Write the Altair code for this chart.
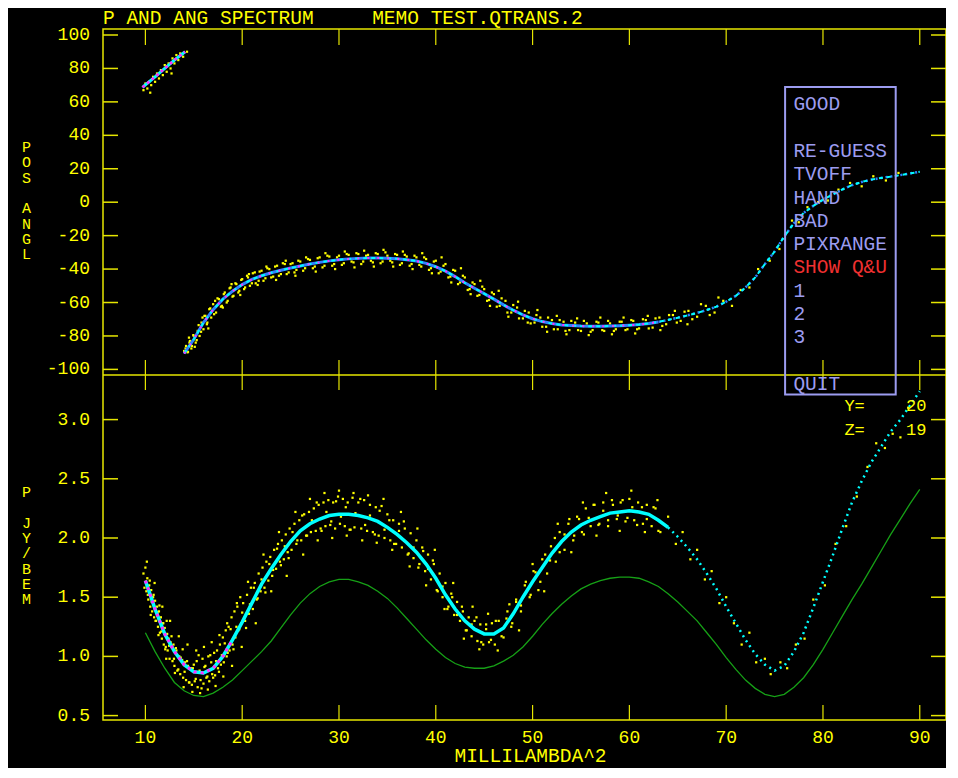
import altair as alt
import pandas as pd

NB = "\u00a0"  # non-breaking space so SVG keeps the spacing

# ---------------- text content ----------------
TITLE = "P AND ANG SPECTRUM     MEMO TEST.QTRANS.2"
X_TITLE = "MILLILAMBDA^2"
Y_TITLE_TOP = ["P", "O", "S", "", "A", "N", "G", "L"]
Y_TITLE_BOT = ["P", "", "J", "Y", "/", "B", "E", "M"]
MENU_ITEMS = ["GOOD", "", "RE-GUESS", "TVOFF", "HAND", "BAD", "PIXRANGE", "SHOW Q&U", "1", "2", "3", "", "QUIT"]
MENU_RED_ITEM = "SHOW Q&U"
INFO_KEYS = ["Y=", "Z="]
INFO_VALS = ["20", "19"]


def keep(s):
    return s.replace(" ", NB)


# ---------------- ticks ----------------
X_TICKS = [10, 20, 30, 40, 50, 60, 70, 80, 90]
X_LABELS = ["10", "20", "30", "40", "50", "60", "70", "80", "90"]
TOP_TICKS = [100, 80, 60, 40, 20, 0, -20, -40, -60, -80, -100]
TOP_LABELS = ["100", "80", "60", "40", "20", "0", "-20", "-40", "-60", "-80", "-100"]
BOT_TICKS = [3.0, 2.5, 2.0, 1.5, 1.0, 0.5]
BOT_LABELS = ["3.0", "2.5", "2.0", "1.5", "1.0", "0.5"]

# ---------------- model curves ----------------
P_X = list(range(10, 91))
P_MODEL = [1.64, 1.40, 1.19, 1.04, 0.93, 0.87, 0.86, 0.90, 1.00, 1.14,
           1.29, 1.45, 1.61, 1.74, 1.86, 1.97, 2.06, 2.12, 2.16, 2.19,
           2.20, 2.20, 2.19, 2.17, 2.14, 2.09, 2.03, 1.96, 1.88, 1.78,
           1.66, 1.52, 1.40, 1.30, 1.23, 1.19, 1.19, 1.24, 1.36, 1.50,
           1.63, 1.75, 1.87, 1.97, 2.05, 2.11, 2.15, 2.18, 2.21, 2.22,
           2.23, 2.22, 2.20, 2.15, 2.09, 2.01, 1.92, 1.82, 1.70, 1.57,
           1.42, 1.28, 1.14, 1.02, 0.93, 0.88, 0.92, 1.04, 1.20, 1.41,
           1.63, 1.85, 2.08, 2.30, 2.48, 2.64, 2.77, 2.90, 3.00, 3.12,
           3.24]
P_GREEN = [1.20, 1.04, 0.90, 0.78, 0.71, 0.67, 0.66, 0.69, 0.74, 0.80,
           0.88, 0.96, 1.04, 1.13, 1.24, 1.35, 1.45, 1.53, 1.59, 1.63,
           1.65, 1.65, 1.63, 1.60, 1.55, 1.49, 1.41, 1.32, 1.23, 1.14,
           1.06, 0.99, 0.94, 0.91, 0.90, 0.90, 0.92, 0.96, 1.01, 1.08,
           1.17, 1.27, 1.36, 1.44, 1.51, 1.57, 1.61, 1.64, 1.66, 1.67,
           1.67, 1.66, 1.63, 1.59, 1.53, 1.46, 1.38, 1.30, 1.20, 1.10,
           0.99, 0.89, 0.80, 0.73, 0.68, 0.66, 0.68, 0.74, 0.82, 0.93,
           1.06, 1.20, 1.34, 1.48, 1.61, 1.75, 1.89, 2.03, 2.16, 2.29,
           2.41]

ANG_X = list(range(14, 91))
ANG_MODEL = [-90.5, -82, -72, -64.3, -58, -53.2, -49.3, -46.2, -44, -42.2,
             -40.7, -39.4, -38.2, -37, -36, -35.1, -34.4, -33.9, -33.6, -33.4,
             -33.4, -33.5, -33.8, -34.4, -35.2, -36.6, -38.6, -41.2, -44.5, -48.2,
             -51.5, -54.7, -58, -61.4, -64.6, -67.4, -69.7, -71.4, -72.6, -73.4,
             -73.8, -74.1, -74.2, -74.2, -74.1, -73.9, -73.6, -73.2, -72.5, -71.6,
             -70.4, -69.1, -67.7, -66.2, -64.5, -62.5, -59.5, -56, -51, -45,
             -37, -29.5, -20.5, -12.5, -6.5, -2.2, 1.5, 4.6, 7.6, 10.2,
             12.1, 13.5, 14.5, 15.3, 16.2, 17.2, 18.2]
WRAP_X = [9.7, 10, 11, 12, 13, 14.1]
WRAP_ANG = [68.7, 70.2, 75.0, 80.0, 85.0, 90.0]

# ---------------- measured points (yellow) ----------------
P_POINTS = [
    (9.8, 1.70), (9.9, 1.58), (10.0, 1.75), (10.1, 1.55), (10.2, 1.66), (10.3, 1.48), (10.4, 1.60), (10.5, 1.42),
    (10.6, 1.56), (10.7, 1.38), (10.8, 1.50), (10.9, 1.33), (11.0, 1.47), (11.1, 1.30), (11.2, 1.42), (11.3, 1.25),
    (11.4, 1.38), (11.5, 1.20), (11.6, 1.33), (11.7, 1.15), (11.8, 1.28), (11.9, 1.10), (12.0, 1.24), (12.1, 1.08),
    (12.2, 1.30), (12.3, 1.05), (12.4, 1.15), (12.5, 0.98), (12.6, 1.12), (12.8, 0.96), (12.9, 1.10), (13.0, 0.92),
    (13.2, 1.05), (13.3, 0.88), (13.5, 1.00), (13.6, 0.85), (13.8, 0.97), (13.9, 0.82), (14.1, 0.95), (14.2, 0.80),
    (14.4, 0.92), (14.5, 0.78), (14.7, 0.90), (14.8, 0.76), (15.0, 0.93), (15.1, 0.79), (15.3, 0.96), (15.4, 0.74),
    (15.6, 0.88), (15.7, 0.80), (15.9, 0.98), (16.0, 0.77), (16.2, 0.92), (16.3, 0.82), (16.5, 1.00), (16.6, 0.79),
    (16.8, 0.95), (16.9, 0.85), (17.1, 1.03), (17.2, 0.84), (17.4, 1.05), (17.5, 0.90), (17.7, 1.10), (17.8, 0.93),
    (18.0, 1.16), (18.1, 0.95), (18.3, 1.22), (18.4, 1.00), (18.6, 1.25), (18.7, 1.05), (18.9, 1.33), (19.0, 1.10),
    (19.2, 1.38), (19.3, 1.16), (19.5, 1.42), (19.6, 1.22), (19.8, 1.50), (19.9, 1.28),
    (20.1, 1.45), (20.3, 1.30), (20.5, 1.52), (20.7, 1.36), (20.9, 1.58), (21.1, 1.40), (21.3, 1.62), (21.5, 1.48),
    (21.7, 1.70), (21.9, 1.55), (22.1, 1.75), (22.3, 1.58), (22.5, 1.80), (22.7, 1.64), (22.9, 1.84), (23.1, 1.68),
    (23.3, 1.90), (23.5, 1.74), (23.7, 1.95), (23.9, 1.80), (24.1, 1.98), (24.3, 1.82), (24.5, 2.03), (24.7, 1.88),
    (24.9, 2.08), (25.1, 1.90), (25.4, 2.12), (25.6, 1.95), (25.9, 2.15), (26.1, 1.98), (26.4, 2.20), (26.6, 2.02),
    (26.9, 2.22), (27.1, 2.05), (27.4, 2.25), (27.6, 2.06), (27.9, 2.28), (28.1, 2.08), (28.4, 2.30), (28.6, 2.10),
    (28.9, 2.32), (29.1, 2.11), (29.4, 2.30), (29.6, 2.08), (29.9, 2.35), (30.1, 2.12), (30.4, 2.33), (30.6, 2.10),
    (30.9, 2.30), (31.1, 2.07), (31.4, 2.34), (31.6, 2.09),
    (32.0, 2.30), (32.3, 2.08), (32.6, 2.32), (32.9, 2.06), (33.2, 2.28), (33.5, 2.05), (33.8, 2.26), (34.1, 2.02),
    (34.4, 2.27), (34.7, 2.00), (35.0, 2.20), (35.3, 1.98), (35.6, 2.15), (35.9, 1.95), (36.2, 2.12), (36.5, 1.92),
    (36.8, 2.08), (37.1, 1.86), (37.4, 2.04), (37.7, 1.83), (38.0, 1.98), (38.3, 1.78), (38.6, 1.92), (38.9, 1.72),
    (39.2, 1.86), (39.5, 1.65), (39.8, 1.78), (40.1, 1.56), (40.4, 1.70), (40.7, 1.50), (41.0, 1.62), (41.3, 1.42),
    (41.6, 1.53), (41.9, 1.35), (42.2, 1.46), (42.5, 1.30), (42.8, 1.38), (43.1, 1.22), (43.4, 1.33), (43.7, 1.17),
    (44.0, 1.30), (44.3, 1.13), (44.6, 1.27), (44.9, 1.10), (45.2, 1.27), (45.5, 1.12), (45.8, 1.28), (46.1, 1.10),
    (46.5, 1.30), (47.0, 1.16), (47.4, 1.38), (47.9, 1.28), (48.3, 1.48), (48.8, 1.38), (49.2, 1.60), (49.7, 1.50),
    (50.1, 1.72), (50.6, 1.56), (51.0, 1.82), (51.5, 1.70), (51.9, 1.93), (52.4, 1.80), (52.8, 2.05), (53.3, 1.90),
    (53.7, 2.12), (54.2, 1.98), (54.6, 2.18), (55.1, 2.05), (55.5, 2.25), (56.0, 2.10), (56.4, 2.28), (56.9, 2.12),
    (57.3, 2.30), (57.8, 2.15), (58.2, 2.32), (58.7, 2.16), (59.1, 2.30), (59.6, 2.14), (60.0, 2.33), (60.5, 2.15),
    (60.9, 2.30), (61.4, 2.12), (61.8, 2.28), (62.3, 2.10), (62.7, 2.25), (63.2, 2.05),
    (64.0, 2.18), (64.8, 1.95), (65.5, 2.05), (66.3, 1.82), (67.0, 1.90), (67.8, 1.65), (68.5, 1.72), (69.3, 1.45),
    (70.0, 1.50), (70.8, 1.28), (71.6, 1.10), (72.4, 1.20), (73.1, 0.95), (74.0, 0.98), (74.6, 0.85), (75.6, 0.95),
    (76.3, 0.90), (77.2, 1.10), (78.1, 1.15), (79.0, 1.48), (80.2, 1.60), (81.3, 1.95), (82.4, 2.10), (83.5, 2.35),
    (84.6, 2.60), (85.5, 2.80), (86.4, 2.76), (87.2, 2.88), (88.0, 2.85), (88.8, 3.10),
]
P_POINTS_2 = [
    (10.05, 1.63), (10.25, 1.52), (10.45, 1.64), (10.65, 1.46), (10.85, 1.52), (11.05, 1.30), (11.25, 1.37),
    (11.45, 1.43), (11.65, 1.21), (11.85, 1.28), (12.05, 1.06), (12.25, 1.19), (12.45, 1.09), (12.7, 1.17),
    (12.95, 0.98), (13.15, 1.07), (13.4, 0.89), (13.65, 0.99), (13.85, 1.06), (14.05, 0.87), (14.3, 0.96),
    (14.55, 0.78), (14.9, 0.90), (15.2, 0.81), (15.5, 1.01), (15.8, 0.73), (16.1, 0.91), (16.4, 0.83),
    (16.7, 1.01), (17.0, 0.82), (17.3, 0.96), (17.6, 0.87), (17.9, 1.01), (18.2, 1.11), (18.5, 1.03),
    (18.8, 1.23), (19.1, 1.06), (19.4, 1.25), (19.7, 1.23), (20.0, 1.37), (20.4, 1.24), (20.8, 1.44),
    (21.2, 1.58), (21.6, 1.49), (22.0, 1.65), (22.4, 1.54), (22.8, 1.78), (23.2, 1.73), (23.6, 1.91),
    (24.0, 1.77), (24.4, 1.93), (24.8, 1.83), (25.2, 2.05), (25.7, 1.98), (26.2, 2.19), (26.7, 2.02),
    (27.2, 2.15), (27.7, 2.30), (28.2, 2.06), (28.7, 2.22), (29.2, 2.14), (29.7, 2.31), (30.2, 2.18),
    (30.7, 2.26), (31.2, 2.07), (31.7, 2.21), (32.2, 2.33), (32.7, 2.11), (33.2, 2.19), (33.7, 2.03),
    (34.2, 2.23), (34.7, 2.07), (35.2, 2.15), (35.7, 1.95), (36.2, 2.06), (36.7, 2.14), (37.2, 1.87),
    (37.7, 1.92), (38.2, 1.75), (38.7, 1.89), (39.2, 1.74), (39.7, 1.81), (40.2, 1.55), (40.7, 1.59),
    (41.2, 1.40), (41.7, 1.50), (42.2, 1.35), (42.7, 1.42), (43.2, 1.22), (43.7, 1.27), (44.2, 1.33),
    (44.7, 1.12), (45.2, 1.23), (45.7, 1.14), (46.2, 1.30), (46.8, 1.17), (47.3, 1.32), (47.8, 1.25),
    (48.3, 1.46), (48.8, 1.43), (49.3, 1.63), (49.8, 1.52), (50.3, 1.71), (50.8, 1.63), (51.3, 1.86),
    (51.8, 1.81), (52.3, 2.00), (52.8, 1.88), (53.3, 2.03), (53.8, 2.16), (54.3, 2.02), (54.8, 2.16),
    (55.3, 2.03), (55.8, 2.17), (56.3, 2.28), (56.8, 2.11), (57.3, 2.23), (57.8, 2.10), (58.3, 2.28),
    (58.8, 2.19), (59.3, 2.32), (59.8, 2.17), (60.3, 2.26), (60.8, 2.11), (61.3, 2.26), (61.8, 2.16),
    (62.5, 2.26), (63.0, 2.06),
]
P_POINTS_3 = [
    (10.15, 1.80), (10.55, 1.35), (10.95, 1.62), (11.35, 1.18), (11.75, 1.42), (12.15, 0.98), (12.55, 1.30),
    (13.05, 0.86), (13.45, 1.17), (13.95, 0.74), (14.35, 1.10), (14.85, 0.70), (15.25, 1.05), (15.65, 0.69),
    (16.05, 1.08), (16.45, 0.72), (16.85, 1.12), (17.25, 0.75), (17.65, 1.18), (18.05, 0.83), (18.45, 1.28),
    (18.95, 0.92), (19.45, 1.45), (19.95, 1.08), (20.6, 1.63), (21.4, 1.28), (22.2, 1.86), (23.0, 1.55),
    (23.8, 2.05), (24.6, 1.68), (25.5, 2.22), (26.3, 1.86), (27.0, 2.33), (27.8, 1.98), (28.5, 2.38),
    (29.3, 2.00), (30.0, 2.40), (30.8, 2.02), (31.5, 2.38), (32.4, 1.98), (33.0, 2.36), (33.9, 1.96),
    (34.6, 2.33), (35.5, 1.90), (36.4, 2.22), (37.3, 1.76), (38.1, 2.08), (39.0, 1.60), (39.9, 1.90),
    (40.9, 1.40), (41.8, 1.62), (42.9, 1.15), (43.8, 1.42), (44.5, 1.06), (45.4, 1.36), (46.4, 1.05),
    (47.6, 1.44), (48.6, 1.22), (50.0, 1.78), (51.2, 1.55), (52.6, 2.12), (54.0, 1.88), (55.2, 2.30),
    (56.6, 2.02), (57.6, 2.38), (59.0, 2.06), (60.2, 2.40), (61.6, 2.05), (62.9, 2.32),
]
ANG_POINTS = [
    (9.8, 67), (10.0, 71), (10.2, 68), (10.4, 72), (10.6, 70), (10.8, 75), (11.0, 72), (11.2, 77), (11.4, 74),
    (11.6, 79), (11.8, 76), (12.0, 82), (12.2, 78), (12.4, 83), (12.6, 80), (12.8, 86), (13.0, 83), (13.2, 88),
    (13.4, 85), (13.6, 89), (13.9, 87), (14.3, 90), (10.5, 65.5), (12.7, 77),
    (14.0, -89), (14.2, -86), (14.4, -89.5), (14.6, -83), (14.8, -86), (15.0, -80), (15.2, -84), (15.4, -77),
    (15.6, -80), (15.8, -72), (16.0, -76), (16.2, -68), (16.4, -72), (16.6, -64), (16.8, -69), (17.0, -61),
    (17.3, -66), (17.6, -58), (17.9, -62), (18.2, -54), (18.5, -59), (18.8, -51), (19.1, -56), (19.4, -49),
    (19.7, -53), (20.0, -46), (20.3, -51), (20.6, -45), (21.0, -48.5), (21.3, -42), (21.7, -47), (22.0, -41),
    (22.4, -45.5), (22.8, -40), (23.2, -44.5), (23.6, -38), (24.0, -43), (24.4, -37), (24.8, -42), (25.2, -36.5),
    (25.6, -40.5), (26.0, -35.5), (26.5, -39.5), (27.0, -34.5), (27.5, -38.5), (28.0, -33), (28.5, -38), (29.0, -32.5),
    (29.5, -37), (30.0, -32), (30.5, -36.5), (31.0, -31.5), (31.5, -36), (32.0, -31), (32.5, -35.5), (33.0, -31.5),
    (33.5, -36), (34.0, -31), (34.5, -35.5), (35.0, -32), (35.5, -36), (36.0, -31.5), (36.5, -36.5), (37.0, -32.5),
    (37.5, -37), (38.0, -33), (38.5, -38.5), (39.0, -34), (39.5, -39.5), (40.0, -35), (40.5, -41.5), (41.0, -37),
    (41.5, -44.5), (42.0, -41), (42.5, -48), (43.0, -45), (43.5, -52), (44.0, -49), (44.5, -55.5), (45.0, -52),
    (45.5, -58.5), (46.0, -55), (46.6, -62), (47.2, -59), (47.8, -66), (48.4, -63), (49.0, -69.5), (49.6, -66),
    (50.2, -72), (50.8, -69), (51.4, -74.5), (52.0, -70.5), (52.6, -76), (53.2, -71.5), (53.8, -76.5), (54.4, -72),
    (55.0, -77), (55.6, -72.5), (56.2, -76.5), (56.8, -72), (57.4, -77), (58.0, -72.5), (58.6, -76), (59.2, -71.5),
    (59.8, -76), (60.4, -71), (61.0, -75.5), (61.7, -70.5), (62.4, -75), (63.1, -69), (63.8, -73), (64.5, -67.5),
    (65.3, -71), (66.1, -65), (67.0, -68.5), (67.9, -62), (68.8, -66), (69.7, -59), (70.6, -62), (71.5, -52.5),
    (72.4, -51), (73.3, -40), (74.5, -35), (75.5, -28), (76.8, -11), (77.5, -12), (78.4, -3), (79.5, 0),
    (80.5, 1), (81.6, 7.5), (82.8, 11.5), (84.0, 9.5), (85.2, 15.5), (86.5, 13), (87.8, 17.5),
]
ANG_POINTS_2 = [
    (14.15, -87.5), (14.35, -89.8), (14.55, -84), (14.75, -87.5), (14.95, -79.5), (15.3, -82.5), (15.5, -73.5),
    (15.75, -77.5), (16.1, -68), (16.35, -73), (16.7, -63.5), (17.1, -67), (17.45, -57.5), (17.8, -62.5),
    (18.1, -55), (18.4, -60), (18.7, -51.5), (19.0, -56.5), (19.3, -48.5), (19.6, -54), (19.9, -46.5),
    (20.2, -52), (20.5, -44), (20.8, -50), (21.1, -42.5), (21.4, -48.5), (21.8, -41.5), (22.2, -47),
    (22.6, -39.5), (23.0, -45), (23.4, -38.5), (23.8, -44), (24.2, -36.5), (24.6, -43), (25.0, -37),
    (25.4, -42), (25.8, -35), (26.3, -41), (26.8, -34), (27.3, -39.5), (27.8, -33.5), (28.3, -39),
    (28.8, -32), (29.3, -38), (29.8, -33), (30.3, -37.5), (30.8, -31), (31.3, -35.5), (31.8, -30.5),
    (32.3, -37), (32.8, -32), (33.3, -35), (33.8, -30.5), (34.3, -36.5), (34.8, -30), (35.3, -35),
    (35.8, -31), (36.3, -37.5), (36.8, -31.5), (37.3, -38), (37.8, -32), (38.3, -37.5), (38.8, -33),
    (39.3, -40.5), (39.8, -35.5), (40.3, -42.5), (40.8, -38), (41.3, -45), (41.8, -40.5), (42.3, -49),
    (42.8, -44), (43.3, -52.5), (43.8, -48), (44.3, -56), (44.8, -50.5), (45.3, -59), (45.8, -54),
    (46.3, -62.5), (46.8, -57.5), (47.4, -66), (48.0, -61.5), (48.6, -69.5), (49.2, -65), (49.8, -72.5),
    (50.4, -67.5), (51.0, -74.5), (51.6, -69), (52.2, -76), (52.8, -70.5), (53.4, -77), (54.0, -71),
    (54.7, -76.5), (55.3, -71), (56.0, -77.5), (56.6, -71.5), (57.2, -76.5), (57.8, -71), (58.4, -77),
    (59.0, -71.5), (59.6, -76.5), (60.2, -70.5), (60.8, -76), (61.4, -70), (62.0, -75.5), (62.7, -69.5),
    (63.4, -74), (64.1, -67.5), (64.9, -72), (65.7, -65.5), (66.5, -70),
]
ANG_POINTS_3 = [
    (14.5, -81), (15.1, -86.5), (15.9, -69), (16.5, -75.5), (17.2, -59), (18.0, -63), (18.9, -49), (19.8, -55.5),
    (20.7, -43), (21.6, -49.5), (22.5, -38.5), (23.5, -46.5), (24.5, -35), (25.5, -44), (26.6, -33), (27.6, -41.5),
    (28.6, -30.5), (29.6, -40), (30.6, -29.5), (31.6, -39), (32.6, -29), (33.6, -38.5), (34.6, -28.5),
    (35.6, -38.5), (36.6, -29.5), (37.6, -40), (38.6, -30.5), (39.6, -42.5), (40.6, -33), (41.6, -48),
    (42.6, -39.5), (43.6, -55), (44.6, -47), (45.6, -62), (46.5, -53), (47.5, -68.5), (48.5, -59.5),
    (49.5, -72), (50.5, -64.5), (51.5, -77.5), (52.5, -68), (53.5, -79), (54.6, -69.5), (55.8, -79.5),
    (57.0, -69), (58.2, -79), (59.4, -69), (60.6, -78.5), (61.9, -68), (63.2, -76.5), (64.7, -65),
    (66.0, -73), (67.4, -61), (68.3, -67.5), (69.2, -57),
]

# ---------------- frames ----------------
p_pts = pd.DataFrame(P_POINTS + P_POINTS_2 + P_POINTS_3, columns=["x", "p"])
a_pts = pd.DataFrame(ANG_POINTS + ANG_POINTS_2 + ANG_POINTS_3, columns=["x", "a"])
p_mod = pd.DataFrame({"x": P_X, "p": P_MODEL})
p_grn = pd.DataFrame({"x": P_X, "p": P_GREEN})
a_mod = pd.DataFrame({"x": ANG_X, "a": ANG_MODEL})
a_wrap = pd.DataFrame({"x": WRAP_X, "a": WRAP_ANG})
xt = pd.DataFrame({"x": X_TICKS, "lbl": X_LABELS})
yt_top = pd.DataFrame({"a": TOP_TICKS, "lbl": TOP_LABELS})
yt_bot = pd.DataFrame({"p": BOT_TICKS, "lbl": BOT_LABELS})
one = pd.DataFrame({"k": [0]})
info = pd.DataFrame({"key": INFO_KEYS, "val": INFO_VALS, "row": [0, 1]})

# ---------------- style ----------------
W, H = 843, 691
DIV = 346
YEL = "#FFFF00"
FRAME = "#E6E600"
LAV = "#9C9CF0"
RED = "#F03030"
CYAN = "#00FFFF"
MAG = "#FF30FF"
BLUE = "#2F80FF"
GREEN = "#16A016"
FONT = "Liberation Mono"

xs = alt.Scale(domain=[5.62, 92.71], nice=False, zero=False)
ys_top = alt.Scale(domain=[-309.7, 103.59], nice=False, zero=False)
ys_bot = alt.Scale(domain=[0.4628, 6.299], nice=False, zero=False)
XE = alt.X("x:Q", scale=xs, axis=None)
YT = alt.Y("a:Q", scale=ys_top, axis=None)
YB = alt.Y("p:Q", scale=ys_bot, axis=None)

# ---------------- top panel ----------------
top = alt.layer(
    alt.Chart(a_pts).mark_square(size=5, color=YEL, opacity=1).encode(x=XE, y=YT),
    alt.Chart(a_wrap).mark_line(color=CYAN, strokeWidth=3).encode(x=XE, y=YT),
    alt.Chart(a_wrap).mark_line(color=MAG, strokeWidth=2.5, strokeDash=[3, 3]).encode(x=XE, y=YT),
    alt.Chart(a_mod).mark_line(color=BLUE, strokeWidth=3).encode(x=XE, y=YT).transform_filter("datum.x <= 63"),
    alt.Chart(a_mod).mark_line(color=BLUE, strokeWidth=2.5, strokeDash=[2, 3]).encode(x=XE, y=YT).transform_filter("datum.x >= 62"),
    alt.Chart(a_mod).mark_line(color=CYAN, strokeWidth=2, strokeDash=[4, 4]).encode(x=XE, y=YT),
    alt.Chart(a_mod).mark_line(color=MAG, strokeWidth=2, strokeDash=[2, 8]).encode(x=XE, y=YT).transform_filter("datum.x <= 63"),
    alt.Chart(yt_top).mark_rule(color=FRAME, strokeWidth=1.5).encode(y=YT, x=alt.value(0), x2=alt.value(15)),
    alt.Chart(yt_top).mark_rule(color=FRAME, strokeWidth=1.5).encode(y=YT, x=alt.value(W - 15), x2=alt.value(W)),
    alt.Chart(yt_top).mark_text(align="right", baseline="middle", font=FONT, fontSize=18, color=YEL).encode(
        y=YT, x=alt.value(-13), text="lbl:N"),
)

# ---------------- bottom panel ----------------
bot = alt.layer(
    alt.Chart(p_pts).mark_square(size=5, color=YEL, opacity=1).encode(x=XE, y=YB),
    alt.Chart(p_grn).mark_line(color=GREEN, strokeWidth=1.3).encode(x=XE, y=YB),
    alt.Chart(p_mod).mark_line(color=CYAN, strokeWidth=3.5).encode(x=XE, y=YB).transform_filter("datum.x <= 64"),
    alt.Chart(p_mod).mark_line(color=CYAN, strokeWidth=2.5, strokeDash=[2, 4]).encode(x=XE, y=YB).transform_filter("datum.x >= 63"),
    alt.Chart(p_mod).mark_line(color=MAG, strokeWidth=3, strokeDash=[3, 4]).encode(x=XE, y=YB).transform_filter("datum.x <= 19"),
    alt.Chart(yt_bot).mark_rule(color=FRAME, strokeWidth=1.5).encode(y=YB, x=alt.value(0), x2=alt.value(15)),
    alt.Chart(yt_bot).mark_rule(color=FRAME, strokeWidth=1.5).encode(y=YB, x=alt.value(W - 15), x2=alt.value(W)),
    alt.Chart(yt_bot).mark_text(align="right", baseline="middle", font=FONT, fontSize=18, color=YEL).encode(
        y=YB, x=alt.value(-13), text="lbl:N"),
)


def text_at(s, x, y, size, color, align="left", baseline="top"):
    return alt.Chart(one).mark_text(text=keep(s), align=align, baseline=baseline, font=FONT,
                                    fontSize=size, color=color).encode(x=alt.value(x), y=alt.value(y))


# ---------------- frame, ticks, texts ----------------
misc = [
    alt.Chart(one).mark_rule(color=FRAME, strokeWidth=1.5).encode(
        x=alt.value(0), x2=alt.value(W), y=alt.value(DIV)),
    alt.Chart(xt).mark_rule(color=FRAME, strokeWidth=1.2).encode(x=XE, y=alt.value(0), y2=alt.value(16)),
    alt.Chart(xt).mark_rule(color=FRAME, strokeWidth=1.2).encode(x=XE, y=alt.value(DIV - 15), y2=alt.value(DIV + 15)),
    alt.Chart(xt).mark_rule(color=FRAME, strokeWidth=1.2).encode(x=XE, y=alt.value(H - 15), y2=alt.value(H)),
    alt.Chart(xt).mark_text(align="center", baseline="top", font=FONT, fontSize=18, color=YEL).encode(
        x=XE, y=alt.value(H + 8.5), text="lbl:N"),
    text_at(TITLE, 0, -5, 19.5, YEL, baseline="alphabetic"),
    text_at(X_TITLE, 427.5, 733, 19.5, YEL, align="center", baseline="alphabetic"),
    alt.Chart(one).mark_rect(fillOpacity=0, stroke=LAV, strokeWidth=2).encode(
        x=alt.value(682.1), x2=alt.value(792.7), y=alt.value(58), y2=alt.value(365.6)),
]
for i, s in enumerate(Y_TITLE_TOP):
    if s:
        misc.append(text_at(s, -76.6, 111 + i * 15.3, 15, YEL, align="center"))
for i, s in enumerate(Y_TITLE_BOT):
    if s:
        misc.append(text_at(s, -76.6, 456 + i * 15.3, 15, YEL, align="center"))
for i, s in enumerate(MENU_ITEMS):
    if s:
        misc.append(text_at(s, 690.4, 66.3 + i * 23.3, 19.5, RED if s == MENU_RED_ITEM else LAV))
misc += [
    alt.Chart(info).transform_filter("datum.row == 0").mark_text(align="left", baseline="alphabetic", font=FONT,
        fontSize=17, color=YEL).encode(x=alt.value(741.4), y=alt.value(382.3), text="key:N"),
    alt.Chart(info).transform_filter("datum.row == 1").mark_text(align="left", baseline="alphabetic", font=FONT,
        fontSize=17, color=YEL).encode(x=alt.value(741.4), y=alt.value(406.3), text="key:N"),
    alt.Chart(info).transform_filter("datum.row == 0").mark_text(align="right", baseline="alphabetic", font=FONT,
        fontSize=17, color=YEL).encode(x=alt.value(823.4), y=alt.value(382.3), text="val:N"),
    alt.Chart(info).transform_filter("datum.row == 1").mark_text(align="right", baseline="alphabetic", font=FONT,
        fontSize=17, color=YEL).encode(x=alt.value(823.4), y=alt.value(406.3), text="val:N"),
]

chart = alt.layer(top, bot, *misc).resolve_scale(y="independent").properties(
    width=W, height=H,
    autosize=alt.AutoSizeParams(type="none"),
    padding={"left": 95, "top": 21, "right": 0, "bottom": 48},
    background="black",
).configure_view(stroke=FRAME, strokeWidth=1.5)

chart.save("out.html", embed_options={"renderer": "svg", "actions": False})
